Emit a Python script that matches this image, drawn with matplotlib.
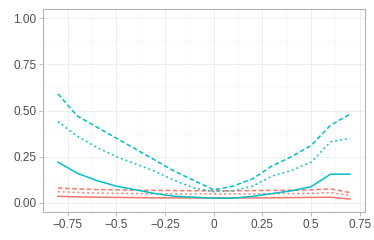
import matplotlib.pyplot as plt
from matplotlib.ticker import FixedLocator

plt.rcParams['font.family'] = ['Liberation Sans', 'DejaVu Sans']

# x positions of the curves
x = [-0.8, -0.7, -0.6, -0.5, -0.4, -0.3, -0.2, -0.1, 0.0,
     0.1, 0.2, 0.3, 0.4, 0.5, 0.6, 0.7]

# cyan group
cyan_dashed = [0.59, 0.47, 0.41, 0.35, 0.29, 0.23, 0.17, 0.12, 0.07,
               0.09, 0.13, 0.20, 0.25, 0.31, 0.42, 0.48]
cyan_dotted = [0.44, 0.36, 0.30, 0.25, 0.21, 0.17, 0.12, 0.08, 0.06,
               0.065, 0.09, 0.145, 0.175, 0.22, 0.33, 0.35]
cyan_solid = [0.22, 0.16, 0.12, 0.09, 0.07, 0.05, 0.035, 0.03, 0.025,
              0.025, 0.035, 0.05, 0.065, 0.087, 0.155, 0.155]

# red group
red_dashed = [0.08, 0.075, 0.072, 0.07, 0.068, 0.067, 0.066, 0.065, 0.065,
              0.065, 0.066, 0.067, 0.068, 0.07, 0.075, 0.055]
red_dotted = [0.06, 0.056, 0.053, 0.051, 0.05, 0.049, 0.048, 0.048, 0.048,
              0.048, 0.048, 0.049, 0.05, 0.051, 0.055, 0.04]
red_solid = [0.035, 0.032, 0.03, 0.029, 0.028, 0.027, 0.026, 0.026, 0.026,
             0.026, 0.026, 0.027, 0.028, 0.029, 0.03, 0.02]

xticks = [-0.75, -0.5, -0.25, 0, 0.25, 0.5, 0.75]
xlabels = ['\u22120.75', '\u22120.5', '\u22120.25', '0', '0.25', '0.5', '0.75']
yticks = [0, 0.25, 0.5, 0.75, 1.0]
ylabels = ['0.00', '0.25', '0.50', '0.75', '1.00']

red = '#F8766D'
cyan = '#00BFC4'

fig = plt.figure(figsize=(3.74, 2.40), dpi=100)
ax = fig.add_axes([43.3 / 374, 28 / 240, (364.6 - 43.3) / 374, (231 - 28) / 240])

lw = 1.1
dash = (0, (3.0, 1.7))
dot = (0, (1.2, 2.0))
ax.plot(x, red_solid, color=red, lw=lw, ls='-')
ax.plot(x, red_dotted, color=red, lw=lw, ls=dot)
ax.plot(x, red_dashed, color=red, lw=lw, ls=dash)
ax.plot(x, cyan_solid, color=cyan, lw=lw, ls='-')
ax.plot(x, cyan_dotted, color=cyan, lw=lw, ls=dot)
ax.plot(x, cyan_dashed, color=cyan, lw=lw, ls=dash)

ax.set_xlim(-0.875, 0.775)
ax.set_ylim(-0.05, 1.05)
ax.set_xticks(xticks)
ax.set_xticklabels(xlabels)
ax.set_yticks(yticks)
ax.set_yticklabels(ylabels)
ax.xaxis.set_minor_locator(FixedLocator([-0.875, -0.625, -0.375, -0.125, 0.125, 0.375, 0.625]))
ax.yaxis.set_minor_locator(FixedLocator([0.125, 0.375, 0.625, 0.875]))

ax.grid(which='major', color='#EBEBEB', lw=0.6)
ax.grid(which='minor', color='#F3F3F3', lw=0.4)
ax.set_axisbelow(True)

for s in ax.spines.values():
    s.set_color('#B3B3B3')
    s.set_linewidth(0.8)

ax.tick_params(which='major', length=3, width=0.6, color='#B3B3B3',
               labelsize=8.5, labelcolor='#4D4D4D', pad=2)
ax.tick_params(which='minor', length=0)

fig.savefig('out.png', dpi=100)
